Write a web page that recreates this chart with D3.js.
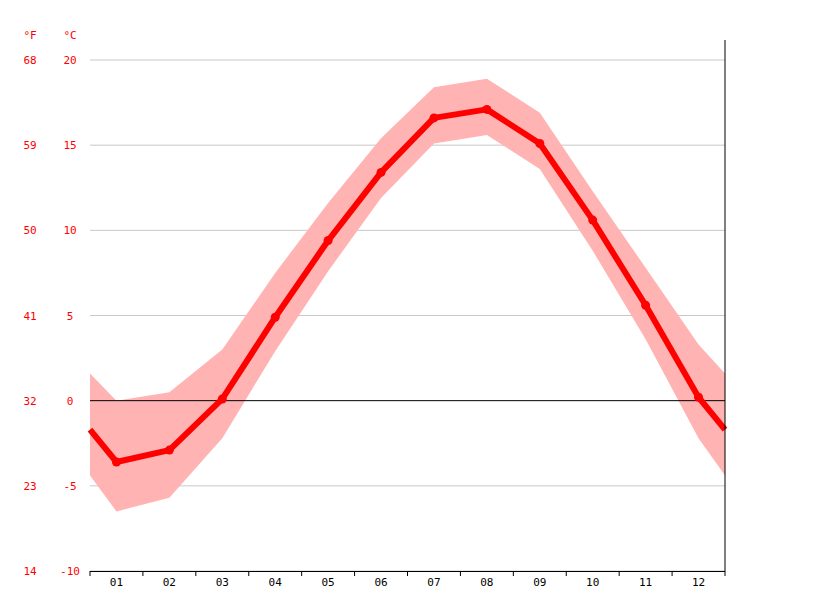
<!DOCTYPE html>
<html><head><meta charset="utf-8">
<script src="https://cdn.jsdelivr.net/npm/d3@7"></script>
<style>body{margin:0;background:#fff}text{font-family:"DejaVu Sans Mono",monospace;font-size:11px}</style>
</head><body><svg id="c" width="815" height="611"></svg>
<script>
const months=["01","02","03","04","05","06","07","08","09","10","11","12"];
const meanT=[-3.6,-2.9,0.1,4.9,9.4,13.4,16.6,17.1,15.1,10.6,5.6,0.2];
const highT=[0.0,0.5,3.0,7.5,11.6,15.4,18.4,18.9,16.9,12.3,7.8,3.3];
const lowT=[-6.5,-5.7,-2.2,2.9,7.6,11.9,15.1,15.6,13.6,8.8,3.6,-2.2];
const edgeMean=-1.7, edgeHigh=1.6, edgeLow=-4.4;
const cTicks=[-10,-5,0,5,10,15,20];
const fTicks=[14,23,32,41,50,59,68];

const svg=d3.select("#c");
const x=d3.scaleLinear().domain([0,12]).range([90,725]);
const y=d3.scaleLinear().domain([-10,20]).range([571,60]);
const pts=(arr,e)=>[[0,e],...arr.map((v,i)=>[i+0.5,v]),[12,e]];

svg.append("g").selectAll("line").data(cTicks.filter(t=>t!==0)).join("line")
 .attr("x1",90).attr("x2",725).attr("y1",d=>y(d)).attr("y2",d=>y(d)).attr("stroke","#c8c8c8");

const band=[[0,edgeLow,edgeHigh],...months.map((m,i)=>[i+0.5,lowT[i],highT[i]]),[12,edgeLow,edgeHigh]];
svg.append("path").datum(band).attr("fill","#ffb3b3")
 .attr("d",d3.area().x(d=>x(d[0])).y0(d=>y(d[1])).y1(d=>y(d[2])));

svg.append("line").attr("x1",90).attr("x2",725).attr("y1",y(0)).attr("y2",y(0)).attr("stroke","#000");

svg.append("path").datum(pts(meanT,edgeMean)).attr("fill","none").attr("stroke","#ff0000").attr("stroke-width",6).attr("stroke-linejoin","round")
 .attr("d",d3.line().x(d=>x(d[0])).y(d=>y(d[1])));
svg.append("g").selectAll("circle").data(meanT).join("circle")
 .attr("cx",(d,i)=>x(i+0.5)).attr("cy",d=>y(d)).attr("r",4.5).attr("fill","#ff0000");

svg.append("line").attr("x1",725).attr("x2",725).attr("y1",40).attr("y2",571).attr("stroke","#000");
svg.append("line").attr("x1",90).attr("x2",725).attr("y1",571.5).attr("y2",571.5).attr("stroke","#000");
svg.append("g").selectAll("line").data(d3.range(0,13)).join("line")
 .attr("x1",d=>x(d)).attr("x2",d=>x(d)).attr("y1",571).attr("y2",576).attr("stroke","#000");
svg.append("g").selectAll("text").data(months).join("text")
 .attr("x",(d,i)=>x(i+0.5)).attr("y",586).attr("text-anchor","middle").attr("fill","#000").text(d=>d);

svg.append("g").selectAll("text").data(cTicks).join("text")
 .attr("x",70).attr("y",d=>y(d)+4).attr("text-anchor","middle").attr("fill","#ff0000").text(d=>d);
svg.append("g").selectAll("text").data(fTicks).join("text")
 .attr("x",30).attr("y",(d,i)=>y(cTicks[i])+4).attr("text-anchor","middle").attr("fill","#ff0000").text(d=>d);
svg.append("text").attr("x",30).attr("y",39).attr("text-anchor","middle").attr("fill","#ff0000").text("°F");
svg.append("text").attr("x",70).attr("y",39).attr("text-anchor","middle").attr("fill","#ff0000").text("°C");
</script></body></html>
